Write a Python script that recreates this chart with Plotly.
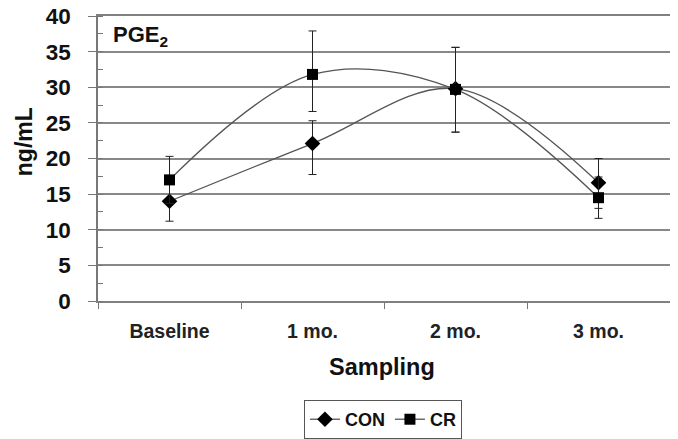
import plotly.graph_objects as go

categories = ["Baseline", "1 mo.", "2 mo.", "3 mo."]
con_values = [14.0, 22.1, 29.8, 16.6]
con_err_plus = [2.8, 3.2, 5.8, 3.4]
con_err_minus = [2.8, 4.35, 6.1, 3.6]
cr_values = [17.0, 31.8, 29.7, 14.5]
cr_err_plus = [3.3, 6.1, 5.9, 2.9]
cr_err_minus = [3.3, 5.2, 6.0, 2.9]
y_ticks = [0, 5, 10, 15, 20, 25, 30, 35, 40]

FONT = "Liberation Sans, Arial, sans-serif"

fig = go.Figure()
fig.add_trace(go.Scatter(
    x=categories, y=con_values, name="CON", mode="lines+markers",
    line=dict(color="#555555", width=1.3, shape="spline", smoothing=1),
    marker=dict(symbol="diamond", size=12, color="black"),
    error_y=dict(type="data", array=con_err_plus, arrayminus=con_err_minus,
                 color="#222222", thickness=1, width=4),
))
fig.add_trace(go.Scatter(
    x=categories, y=cr_values, name="CR", mode="lines+markers",
    line=dict(color="#555555", width=1.3, shape="spline", smoothing=1),
    marker=dict(symbol="square", size=11, color="black"),
    error_y=dict(type="data", array=cr_err_plus, arrayminus=cr_err_minus,
                 color="#222222", thickness=1, width=4),
))

fig.update_layout(
    width=678, height=439,
    margin=dict(l=90, r=16, t=8, b=146, autoexpand=False),
    paper_bgcolor="white", plot_bgcolor="white",
    font=dict(family=FONT, color="#111111"),
    showlegend=True,
    legend=dict(orientation="h", xref="container", yref="container",
                x=0.553, xanchor="center", y=0.107, yanchor="top",
                bordercolor="#555555", borderwidth=1,
                font=dict(size=18, family=FONT, weight="bold"),
                itemwidth=30, tracegroupgap=0),
    xaxis=dict(
        type="category", range=[-0.5, 3.5], tickson="boundaries", automargin=False,
        ticks="outside", ticklen=6, tickcolor="#777777", tickwidth=1,
        showline=True, linecolor="#808080", linewidth=1.5, mirror=True, showgrid=False,
        tickfont=dict(size=19.5, family=FONT, weight="bold", color="#222222"),
        ticklabelstandoff=12, zeroline=False, ticklabeloverflow="allow",
    ),
    yaxis=dict(
        range=[0, 40], tickvals=y_ticks, automargin=False,
        ticks="outside", ticklen=8, tickcolor="#777777", tickwidth=1,
        showline=True, linecolor="#777777", linewidth=1.5, mirror=True,
        showgrid=True, gridcolor="#888888", gridwidth=1.5, zeroline=False,
        tickfont=dict(size=22.5, family=FONT, weight="bold", color="#111111"),
        ticklabelstandoff=13, ticklabeloverflow="allow",
        minor=dict(dtick=2.5, ticks="inside", ticklen=5, tickcolor="#777777", showgrid=False),
    ),
    annotations=[
        dict(text="Sampling", xref="paper", yref="paper", x=0.497, y=-0.233,
             xanchor="center", yanchor="middle", showarrow=False,
             font=dict(size=23.5, family=FONT, weight="bold", color="#111111")),
        dict(text="ng/mL", xref="paper", yref="paper", x=-0.128, y=0.56,
             xanchor="center", yanchor="middle", textangle=-90, showarrow=False,
             font=dict(size=23, family=FONT, weight="bold", color="#111111")),
        dict(text="PGE<sub>2</sub>", xref="paper", yref="paper", x=0.022, y=0.93,
             xanchor="left", yanchor="middle", showarrow=False,
             font=dict(size=22, family=FONT, weight="bold", color="#111111")),
    ],
)

fig.write_html("out.html")
